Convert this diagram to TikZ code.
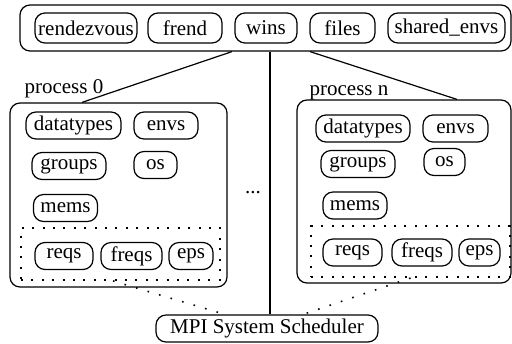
\documentclass[tikz,border=0pt]{standalone}
\usepackage{fontspec}
\setmainfont{Liberation Serif}
\begin{document}
\begin{tikzpicture}[x=0.5pt,y=-0.5pt,line width=0.6pt,
	font=\fontsize{10.5}{12}\selectfont,
	box/.style={draw,rounded corners=5pt,inner sep=1pt},
	item/.style={box,minimum height=13.5pt},
	toprow/.style={box,minimum height=15pt},
	dotbox/.style={draw,line width=1pt,dash pattern=on 1pt off 4.2pt,inner sep=0pt},
	dotline/.style={line width=0.8pt,dash pattern=on 0.8pt off 5.2pt}]
		\useasboundingbox (0,0) rectangle (512,343);
		%\draw[step=10,very thin,color=gray] (0,0) grid (512,343);
		\draw (265.5,28) node[box,inner sep=0pt,minimum width=245.5pt,minimum height=23pt] (common) {};
		\draw (86,28) node[toprow,minimum width=51pt] (rendezvous) {rendezvous};
		\draw (185,28) node[toprow,minimum width=37pt] (frend) {frend};
		\draw (266,28) node[toprow,minimum width=31pt] (wins) {wins};
		\draw (342.5,28) node[toprow,minimum width=32.5pt] (files) {files};
		\draw (446.5,28) node[toprow,minimum width=58.5pt] (sharedenvs) {shared\_envs};
		%process 0
		\draw (24,93) node[anchor=base west,inner sep=0pt] (lbl0) {process 0};
		\draw (118.5,195) node[box,inner sep=0pt,minimum width=108.5pt,minimum height=92pt] (p0) {};
		\draw (73.5,125.5) node[item,minimum width=47.5pt] (dt0) {datatypes};
		\draw (166,125.5) node[item,minimum width=32pt] (en0) {envs};
		\draw (69,166) node[item,minimum width=37pt] (gr0) {groups};
		\draw (155.5,165) node[item,minimum width=21.5pt] (os0) {os};
		\draw (65.5,208) node[item,minimum width=32pt] (me0) {mems};
		\draw (120.5,254) node[dotbox,minimum width=99.5pt,minimum height=26pt] (rq0) {};
		\draw (64,256) node[item,minimum width=29pt] (req0) {reqs};
		\draw (131.5,256) node[item,minimum width=30.5pt] (freq0) {freqs};
		\draw (191,256) node[item,minimum width=22pt] (eps0) {eps};
		%process n
		\draw (309,95) node[anchor=base west,inner sep=0pt] (lbln) {process n};
		\draw (404,191.5) node[box,inner sep=0pt,minimum width=107pt,minimum height=91.5pt] (pn) {};
		\draw (363,128.5) node[item,minimum width=47pt] (dtn) {datatypes};
		\draw (455.5,128.5) node[item,minimum width=32.5pt] (enn) {envs};
		\draw (358,164) node[item,minimum width=37pt] (grn) {groups};
		\draw (444.5,162) node[item,minimum width=20.5pt] (osn) {os};
		\draw (355,205.5) node[item,minimum width=32pt] (men) {mems};
		\draw (410.5,251.5) node[dotbox,minimum width=99.5pt,minimum height=25.5pt] (rqn) {};
		\draw (352.5,252.5) node[item,minimum width=29.5pt] (reqn) {reqs};
		\draw (422,252.5) node[item,minimum width=30pt] (freqn) {freqs};
		\draw (479.5,252.5) node[item,minimum width=20.5pt] (epsn) {eps};
		\draw (253,193) node[anchor=base] (more) {...};
		\draw (267,328.5) node[item,minimum width=111pt] (sched) {MPI System Scheduler};
		\draw ([xshift=-16.75pt]common.south) -- ([xshift=-18.25pt]p0.north);
		\draw ([xshift=2.25pt]common.south) -- ([xshift=1.5pt]sched.north);
		\draw ([xshift=22.25pt]common.south) -- ([xshift=26.5pt]pn.north);
		\draw[dotline] ([xshift=-3.75pt]rq0.south) -- ([xshift=-21pt]sched.north);
		\draw[dotline] (rqn.south) -- ([xshift=18pt]sched.north);
\end{tikzpicture}
\end{document}
